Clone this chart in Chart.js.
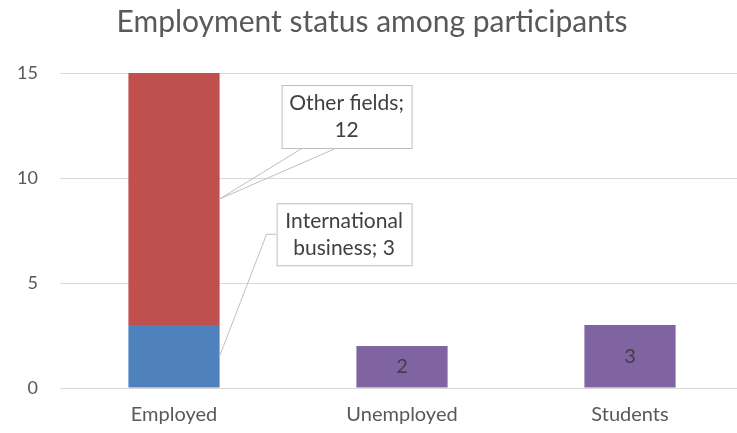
<!DOCTYPE html>
<html>
<head>
<meta charset="utf-8">
<script src="https://cdn.jsdelivr.net/npm/chart.js@4.4.0/dist/chart.umd.min.js"></script>
<style>
  html, body { margin: 0; padding: 0; background: #fff; overflow: hidden; }
  #wrap { width: 750px; height: 433px; }
</style>
</head>
<body>
<div id="wrap"><canvas id="myChart" width="750" height="433"></canvas></div>
<script>
var categorie = ['Employed', 'Unemployed', 'Students'];
var internationalBusiness = [3, null, null];
var otherFields = [12, null, null];
var nonOccupati = [null, 2, 3];
var yTicks = [0, 5, 10, 15];

var fontFamily = "Lato, 'Open Sans', sans-serif";
var testoGrigio = '#595959';
var testoScuro = '#404040';

// wraps "name; value" over lines no wider than maxW
function spezzaTesto(ctx, testo, maxW) {
    var parole = testo.split(' ');
    var righe = [];
    var riga = '';
    for (var i = 0; i < parole.length; i++) {
        var prova = riga ? riga + ' ' + parole[i] : parole[i];
        if (riga && ctx.measureText(prova).width > maxW) {
            righe.push(riga);
            riga = parole[i];
        } else {
            riga = prova;
        }
    }
    righe.push(riga);
    return righe;
}

function disegnaBox(ctx, left, top, w, h, righe) {
    ctx.fillStyle = '#fff';
    ctx.fillRect(left, top, w, h);
    ctx.strokeStyle = '#BFBFBF';
    ctx.lineWidth = 1;
    ctx.strokeRect(left + 0.5, top + 0.5, w, h);
    ctx.fillStyle = testoScuro;
    ctx.textAlign = 'center';
    ctx.textBaseline = 'middle';
    var lh = 27;
    var cy = top + h / 2 - (righe.length - 1) * lh / 2;
    for (var i = 0; i < righe.length; i++) {
        ctx.fillText(righe[i], left + w / 2, cy + i * lh);
    }
}

// callouts for the Employed segments + value labels inside the purple bars
var etichette = {
    id: 'etichette',
    afterDatasetsDraw: function (chart) {
        var ctx = chart.ctx;
        ctx.save();
        ctx.font = '21px ' + fontFamily;

        // Other fields callout
        var barOther = chart.getDatasetMeta(1).data[0];
        var px = barOther.x + barOther.width / 2;
        var py = (barOther.y + barOther.base) / 2;
        var bl = px + 62, bt = py - 114, bw = 130, bh = 63;
        ctx.strokeStyle = '#BFBFBF';
        ctx.lineWidth = 1;
        ctx.beginPath();
        ctx.moveTo(bl + 21, bt + bh);
        ctx.lineTo(px, py);
        ctx.lineTo(bl + 55, bt + bh);
        ctx.stroke();
        var testo = chart.data.datasets[1].label + '; ' + otherFields[0];
        disegnaBox(ctx, bl, bt, bw, bh, spezzaTesto(ctx, testo, 126));

        // International business callout
        var barInt = chart.getDatasetMeta(0).data[0];
        px = barInt.x + barInt.width / 2;
        py = (barInt.y + barInt.base) / 2;
        bl = px + 57; bt = py - 153; bw = 135; bh = 62;
        ctx.beginPath();
        ctx.moveTo(bl, bt + bh / 2);
        ctx.lineTo(bl - 10, bt + bh / 2);
        ctx.lineTo(px, py);
        ctx.stroke();
        testo = chart.data.datasets[0].label + '; ' + internationalBusiness[0];
        disegnaBox(ctx, bl, bt, bw, bh, spezzaTesto(ctx, testo, 126));

        // values inside purple bars
        ctx.font = '20px ' + fontFamily;
        var meta = chart.getDatasetMeta(2);
        ctx.fillStyle = testoScuro;
        ctx.textAlign = 'center';
        ctx.textBaseline = 'middle';
        for (var i = 0; i < meta.data.length; i++) {
            if (nonOccupati[i] === null) continue;
            var b = meta.data[i];
            ctx.fillText(String(nonOccupati[i]), b.x, (b.y + b.base) / 2);
        }
        ctx.restore();
    }
};

var ctx = document.getElementById('myChart');
var chart = new Chart(ctx, {
    type: 'bar',
    data: {
        labels: categorie,
        datasets: [{
            label: 'International business',
            backgroundColor: '#4F81BD',
            data: internationalBusiness
        }, {
            label: 'Other fields',
            backgroundColor: '#C0504D',
            data: otherFields
        }, {
            label: 'Not employed',
            backgroundColor: '#8064A2',
            data: nonOccupati
        }]
    },
    options: {
        responsive: false,
        animation: false,
        layout: { padding: { left: 0, right: 6, top: 0, bottom: 0 } },
        datasets: { bar: { categoryPercentage: 0.4, barPercentage: 1 } },
        plugins: {
            legend: { display: false },
            tooltip: { enabled: false },
            title: {
                display: true,
                text: 'Employment status among participants',
                color: testoGrigio,
                font: { family: fontFamily, size: 30, weight: 'normal' },
                padding: { top: 4, bottom: 33 }
            }
        },
        scales: {
            x: {
                stacked: true,
                grid: { display: false, drawTicks: false },
                border: { display: false },
                ticks: { color: testoGrigio, padding: 15, font: { family: fontFamily, size: 20 } },
                afterFit: function (scale) { scale.height = 45; }
            },
            y: {
                stacked: true,
                min: 0,
                max: 15,
                afterBuildTicks: function (scale) {
                    scale.ticks = yTicks.map(function (v) { return { value: v }; });
                },
                grid: { color: '#D9D9D9', drawTicks: false },
                border: { display: false },
                ticks: { color: testoGrigio, padding: 22, font: { family: fontFamily, size: 18 } },
                afterFit: function (scale) { scale.width = 60; }
            }
        }
    },
    plugins: [etichette]
});
</script>
</body>
</html>
